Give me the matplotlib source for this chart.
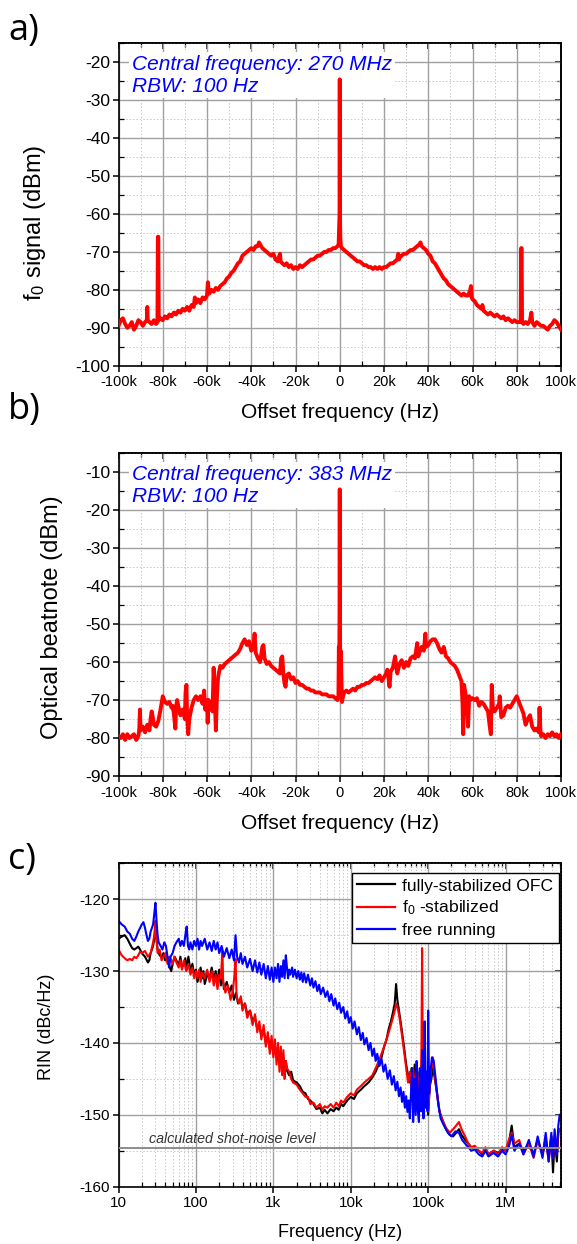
"""
Three-panel chart: f0 beat, optical beatnote and RIN spectra.
"""
import numpy as np
import matplotlib
matplotlib.use('Agg')
import matplotlib.pyplot as plt
from matplotlib.ticker import MultipleLocator, FuncFormatter, LogLocator, NullFormatter

plt.rcParams['font.family'] = ['Liberation Sans', 'DejaVu Sans']
plt.rcParams['mathtext.fontset'] = 'custom'
plt.rcParams['mathtext.rm'] = 'Liberation Sans'
plt.rcParams['mathtext.it'] = 'Liberation Sans:italic'
plt.rcParams['axes.unicode_minus'] = False
plt.rcParams['path.simplify'] = False  # keep the narrow carrier spikes

# --- panel a: f0 signal, offset frequency in kHz ---
fa_khz = [-100, -99, -98, -97, -96, -95, -94, -93, -92, -91, -90, -89, -88, -87.2, -87, -86.8,
          -86, -85, -84, -83, -82.4, -82.2, -82.0, -81.8, -81, -80, -79, -78, -77, -76, -75, -74,
          -73, -72, -71, -70, -69, -68, -67, -66, -65.5, -65, -64, -63, -62, -61, -60, -59.6,
          -59.2, -59, -58, -57, -56, -55, -54, -53, -52, -51, -50, -49, -48, -47, -46, -45, -44,
          -43, -42, -41, -40, -39, -38, -37, -36.5, -36, -35, -34, -33, -32, -31, -30, -29, -28,
          -27.3, -27, -26.7, -26, -25, -24, -23, -22, -21, -20, -19, -18, -17, -16, -15, -14, -13,
          -12, -11, -10, -9, -8, -7, -6, -5, -4, -3, -2, -1, -0.5, -0.25, -0.1, 0, 0.1, 0.25, 0.5,
          1, 2, 3, 4, 5, 6, 7, 8, 9, 10, 11, 12, 13, 14, 15, 16, 17, 18, 19, 20, 21, 22, 23, 24,
          25, 26, 26.4, 26.8, 27, 28, 29, 30, 31, 32, 33, 34, 35, 36, 36.5, 37, 38, 39, 40, 41, 42,
          43, 44, 45, 46, 47, 48, 49, 50, 51, 52, 53, 54, 55, 56, 57, 58, 59, 59.3, 59.6, 60, 61,
          62, 63, 64, 64.5, 65, 66, 67, 68, 69, 70, 71, 72, 73, 74, 75, 76, 77, 78, 79, 80, 81,
          81.8, 82.0, 82.2, 82.4, 83, 84, 85, 86, 86.6, 87, 88, 89, 90, 91, 92, 93, 94, 95, 96,
          97, 98, 99, 100]
pa_dbm = [-89.5, -88, -87.5, -89, -90, -89.5, -88.5, -90.5, -89.5, -88, -88.5, -89.5, -88.5, -88,
          -84.5, -88, -88.5, -89, -88, -89, -88.5, -66, -66, -88, -87.5, -88, -87, -87.5, -86.5,
          -87, -86, -86.5, -85.5, -86, -85, -85.5, -84.5, -85.5, -84, -84.5, -82, -83.5, -82.5,
          -83.5, -82, -82.5, -81.5, -78, -80.5, -81, -80, -80.5, -79.5, -80, -79, -78.5, -78,
          -77, -76.5, -75.5, -75, -74, -73, -72.5, -71, -70.5, -70, -69.5, -69, -69.5, -68.5,
          -68.5, -67.5, -68, -69, -69.5, -70, -70.5, -71, -70.5, -72, -72.5, -71, -70.5, -72.5,
          -73, -73.5, -73, -74, -73.5, -74.5, -74, -74.5, -73.5, -74, -73.5, -73, -72.5, -72,
          -72, -71.5, -71, -71, -70.5, -70, -70, -69.5, -69.5, -69, -69, -68.5, -68, -63, -60,
          -24.5, -60, -66, -68.5, -69, -69.5, -70, -70.5, -71, -71.5, -72, -72.5, -72.5, -73,
          -73.5, -73.5, -74, -74, -74.5, -74, -74.5, -74, -74.5, -74, -74, -73.5, -73, -73,
          -72.5, -72, -70.5, -72, -71.5, -71, -70.5, -70.5, -70, -69.5, -69.5, -69, -68.5, -68,
          -67.5, -68.5, -69, -69.5, -70.5, -71, -72.5, -73, -74, -75, -76, -77, -77.5, -78.5,
          -79, -79.5, -80, -80.5, -81, -81.5, -81, -81.5, -81.5, -80, -79, -82, -82.5, -83, -84,
          -84.5, -85, -84, -85.5, -86, -86.5, -86, -86.5, -87, -86.5, -87, -87.5, -87, -88,
          -87.5, -88, -88.5, -88, -88.5, -88.5, -88.5, -69, -69, -88.5, -89, -88.5, -89, -88,
          -86, -88.5, -89.5, -88.5, -89, -89.5, -89.5, -90, -90.5, -89.5, -89, -88, -88.5,
          -89.5, -90.5]

# --- panel b: optical beatnote ---
fb_khz = [-100, -99, -98, -97, -96, -95, -94, -93, -92, -91, -90.6, -90.3, -90, -89, -88, -87,
          -86, -85.5, -85, -84.5, -84, -83, -82, -81, -80, -79, -78, -77, -76, -75.5, -75, -74.3,
          -74, -73.5, -73, -72, -71, -70, -69.7, -69.3, -69, -68.5, -68, -67, -66, -65, -64, -63,
          -62, -61.3, -60.8, -60, -59.7, -59.3, -58.5, -57.5, -57, -56.5, -56, -55.5, -55, -54,
          -53, -52, -51, -50, -49, -48, -47, -46, -45, -44, -43, -42, -41, -40, -39, -38.5, -38,
          -37, -36, -35.5, -35, -34.5, -34, -33, -32, -31, -30, -29, -28, -27, -26.5, -26, -25.5,
          -25, -24.5, -24, -23, -22, -21, -20, -19, -18, -17, -16, -15, -14, -13, -12, -11, -10,
          -9, -8, -7, -6, -5, -4, -3, -2, -1, -0.6, -0.4, -0.2, -0.05, 0, 0.05, 0.2, 0.4, 0.6, 1,
          1.5, 2, 3, 4, 5, 6, 7, 8, 9, 10, 11, 12, 13, 14, 15, 16, 17, 18, 19, 20, 21, 21.5, 22,
          22.5, 23, 24, 25, 25.5, 26, 27, 28, 29, 30, 31, 32, 33, 34, 35, 35.5, 36, 37, 38, 38.7,
          39, 40, 41, 42, 43, 44, 45, 46, 47, 48, 49, 50, 51, 52, 53, 54, 55, 55.5, 55.8, 56.2,
          57, 57.5, 58, 58.5, 59, 60, 61, 62, 63, 64, 65, 66, 67, 67.8, 68.3, 68.7, 69.2, 70, 71,
          72, 72.3, 73, 74, 75, 76, 77, 78, 79, 80, 81, 82, 83, 84, 85, 86, 87, 88, 89, 90, 90.3,
          90.7, 91, 92, 93, 94, 95, 96, 97, 98, 99, 100]
pb_dbm = [-79.5, -80, -79, -80.5, -79, -80, -79.5, -79, -80.5, -79.5, -77.5, -72.5, -78, -77,
          -78.5, -76.5, -78, -75, -73, -74.5, -76.5, -77, -75.5, -72.5, -69, -70.5, -71, -70.5,
          -72, -71.5, -73.5, -77.5, -72, -70, -71.5, -74, -72.5, -75, -68, -66, -74, -79, -75,
          -72, -70, -69, -70, -69, -71, -67.5, -72.5, -70, -76, -70, -71.5, -73, -61.5, -69, -78,
          -69, -64, -61, -61.5, -60.5, -60, -59.5, -59, -58.5, -58, -57.5, -56.5, -55, -54,
          -55.5, -54.5, -57, -56, -52.5, -57.5, -59, -60, -58, -56, -55.5, -59, -60.5, -60, -61,
          -61.5, -62, -62.5, -63, -59, -58.5, -63, -65.5, -66.5, -63.5, -63, -64.5, -64, -65.5,
          -65, -66, -66, -66.5, -67, -67, -67.5, -67.5, -68, -68, -68, -68.5, -68.5, -68.5, -69,
          -69, -69, -69.5, -70, -69, -56, -60, -40, -14.5, -40, -62, -57, -60, -70.5, -69, -68,
          -67.5, -68, -67.5, -67, -67.5, -66.5, -66.5, -66, -66, -65.5, -65.5, -65, -64.5, -64,
          -64.5, -63.5, -65, -64, -63, -62, -64, -66.5, -62.5, -61.5, -58.5, -61, -63, -60.5,
          -59.5, -61.5, -60, -61, -59, -58.5, -59, -55, -58.5, -57.5, -56, -57, -52.5, -56,
          -55.5, -54.5, -54, -54, -55, -56.5, -57.5, -56, -58.5, -59, -60, -60.5, -61, -62,
          -63.5, -65, -71, -79, -66, -69, -71.5, -77, -69, -70, -69.5, -70, -69.5, -71.5, -70.5,
          -71, -72, -73, -77, -79, -66, -72, -73, -72, -71, -69, -74.5, -74, -72, -71.5, -72,
          -71, -70, -69, -70.5, -72, -73.5, -76.5, -75, -74, -77, -78, -77.5, -78.5, -72, -78,
          -79.5, -79, -80, -79, -79.5, -78.5, -79.5, -79, -80, -79]

# --- panel c: RIN spectra ---
f_full = [10, 11, 12, 13, 14, 15, 16, 17, 18, 19, 20, 22, 24, 25, 26, 28, 29, 30, 31, 32, 34, 36,
          38, 40, 43, 46, 48, 50, 53, 56, 60, 63, 66, 70, 73, 76, 80, 85, 90, 95, 100, 105, 110,
          115, 120, 125, 130, 140, 150, 160, 170, 180, 190, 200, 210, 220, 230, 250, 270, 290,
          310, 330, 350, 380, 400, 430, 460, 500, 540, 580, 620, 660, 700, 750, 800, 850, 900,
          950, 1000, 1050, 1100, 1150, 1200, 1250, 1300, 1350, 1400, 1450, 1500, 1600, 1700,
          1800, 2000, 2200, 2400, 2600, 2800, 3000, 3300, 3600, 4000, 4300, 4600, 5000, 5500,
          6000, 6500, 7000, 7500, 8000, 9000, 10e3, 11e3, 12e3, 13.5e3, 15e3, 17e3, 19e3, 21e3,
          23e3, 25e3, 27e3, 29e3, 31e3, 33e3, 35e3, 37e3, 38.5e3, 40e3, 42e3, 44e3, 46e3, 48e3,
          50e3, 52e3, 55e3, 58e3, 61e3, 64e3, 67e3, 70e3, 73e3, 76e3, 80e3, 84e3, 88e3, 92e3,
          96e3, 100e3, 105e3, 110e3, 115e3, 120e3, 130e3, 140e3, 150e3, 170e3, 190e3, 210e3,
          230e3, 250e3, 270e3, 300e3, 330e3, 360e3, 400e3, 450e3, 500e3, 550e3, 600e3, 700e3,
          800e3, 900e3, 1e6, 1.1e6, 1.2e6, 1.3e6, 1.5e6, 1.7e6, 2e6, 2.3e6, 2.6e6, 3e6, 3.3e6,
          3.6e6, 3.9e6, 4.1e6, 4.3e6, 4.6e6, 4.8e6, 5e6]
rin_full = [-125.5, -125.2, -125.0, -125.5, -126.2, -126.8, -127.0, -126.8, -126.6, -127.0,
            -127.5, -128.0, -128.8, -128.5, -127.5, -126.5, -125.5, -124.0, -125.5, -127.0,
            -127.8, -128.0, -127.5, -128.5, -128.0, -129.5, -130.0, -129.0, -128.0, -128.5,
            -129.2, -128.0, -129.5, -129.0, -128.2, -129.8, -128.0, -130.0, -129.0, -130.5,
            -129.8, -131.5, -130.5, -129.5, -131.0, -130.0, -131.8, -130.5, -131.0, -129.5,
            -131.2, -130.0, -131.5, -129.8, -132.0, -130.5, -132.5, -131.5, -133.0, -132.0,
            -134.0, -133.0, -134.5, -133.8, -135.2, -134.5, -136.0, -135.5, -137.0, -136.5,
            -138.0, -137.5, -139.0, -138.2, -140.0, -139.0, -140.8, -139.8, -141.5, -140.5,
            -142.0, -141.0, -142.8, -141.5, -143.2, -142.0, -143.5, -142.5, -143.8, -144.5,
            -144.0, -145.2, -145.5, -146.0, -146.8, -147.0, -147.8, -148.0, -148.5, -149.2,
            -149.0, -149.8, -149.3, -149.8, -149.2, -149.5, -149.0, -149.3, -148.5, -148.8,
            -148.0, -147.5, -147.8, -147.0, -146.5, -146.0, -145.5, -144.8, -144.0, -143.0,
            -142.0, -140.5, -139.5, -138.0, -137.0, -135.8, -134.5, -131.8, -134.0, -135.5,
            -137.0, -138.5, -140.0, -141.5, -143.0, -144.5, -145.5, -143.5, -146.5, -143.0,
            -147.0, -144.0, -147.5, -145.0, -148.0, -143.5, -149.0, -145.0, -150.0, -146.0,
            -145.0, -143.5, -144.5, -147.0, -149.5, -150.5, -152.0, -152.8, -153.0, -152.5,
            -152.0, -152.8, -153.5, -154.0, -154.5, -154.5, -155.0, -155.5, -154.8, -155.5,
            -155.0, -155.3, -154.8, -155.0, -154.0, -151.5, -154.5, -154.0, -155.0, -154.0,
            -155.5, -153.5, -155.5, -153.5, -156.0, -153.0, -158.0, -153.5, -156.5, -152.5,
            -152.0]

f_f0 = [10, 11, 12, 13, 14, 15, 16, 17, 18, 19, 20, 22, 24, 26, 28, 29, 30, 31, 32, 34, 36, 38,
        40, 43, 46, 50, 53, 56, 60, 63, 66, 70, 75, 80, 85, 90, 95, 100, 105, 110, 115, 120, 130,
        140, 150, 160, 170, 180, 190, 200, 210, 215, 220, 225, 240, 260, 280, 300, 315, 325, 335,
        360, 380, 400, 430, 460, 500, 540, 580, 620, 660, 700, 750, 800, 850, 900, 950, 1000,
        1050, 1100, 1150, 1200, 1250, 1300, 1350, 1400, 1450, 1500, 1600, 1700, 1800, 2000,
        2200, 2400, 2600, 2800, 3000, 3300, 3600, 4000, 4300, 4600, 5000, 5500, 6000, 6500,
        7000, 7500, 8000, 9000, 10e3, 11e3, 12e3, 13.5e3, 15e3, 17e3, 19e3, 21e3, 23e3, 25e3,
        27e3, 29e3, 31e3, 33e3, 35e3, 37e3, 38.5e3, 40e3, 42e3, 44e3, 46e3, 48e3, 50e3, 52e3,
        55e3, 58e3, 61e3, 64e3, 67e3, 70e3, 73e3, 76e3, 80e3, 82e3, 83.5e3, 85e3, 88e3, 92e3,
        96e3, 100e3, 105e3, 110e3, 115e3, 120e3, 130e3, 140e3, 150e3, 170e3, 190e3, 210e3,
        230e3, 250e3, 270e3, 300e3, 330e3, 360e3, 400e3, 450e3, 500e3, 550e3, 600e3, 700e3,
        800e3, 900e3, 1e6, 1.1e6, 1.2e6, 1.3e6, 1.5e6, 1.7e6, 2e6, 2.3e6, 2.6e6, 3e6, 3.3e6,
        3.6e6, 3.9e6, 4.1e6, 4.3e6, 4.6e6, 4.8e6, 5e6]
rin_f0 = [-127.0, -127.8, -128.2, -128.5, -128.3, -128.5, -128.0, -128.2, -127.8, -127.3,
          -127.5, -127.2, -128.0, -127.5, -126.0, -125.0, -123.0, -125.5, -127.5, -127.0,
          -128.5, -128.0, -127.5, -129.0, -128.0, -129.0, -128.0, -128.8, -129.5, -128.5,
          -129.8, -128.5, -130.0, -129.0, -130.5, -129.5, -131.0, -130.0, -131.0, -129.8,
          -131.5, -130.2, -131.0, -129.8, -131.5, -130.0, -132.0, -130.5, -132.5, -130.5,
          -131.0, -129.0, -127.2, -131.5, -133.0, -132.0, -134.0, -132.8, -130.5, -128.3,
          -133.5, -134.5, -133.5, -135.5, -134.5, -136.5, -135.5, -137.5, -136.0, -138.5,
          -137.0, -139.5, -137.5, -140.5, -138.5, -141.5, -139.0, -142.0, -139.5, -143.0,
          -140.0, -144.0, -140.5, -144.5, -141.0, -145.0, -142.5, -143.5, -144.0, -145.0,
          -145.5, -145.8, -146.5, -147.0, -147.5, -147.5, -148.5, -148.3, -149.0, -148.5,
          -149.3, -148.8, -149.0, -148.5, -149.0, -148.3, -148.8, -148.0, -148.3, -147.5,
          -147.0, -147.3, -146.5, -146.0, -145.5, -145.0, -144.5, -143.5, -142.5, -141.5,
          -140.5, -139.5, -138.5, -137.5, -136.5, -135.5, -134.5, -135.0, -136.0, -137.5,
          -139.0, -140.5, -142.0, -143.5, -145.5, -144.0, -146.5, -143.5, -147.0, -144.0,
          -146.5, -144.5, -147.0, -140.0, -126.8, -140.0, -146.0, -144.5, -147.5, -149.5,
          -146.0, -143.5, -142.0, -144.0, -147.0, -149.5, -150.5, -151.8, -152.5, -152.0,
          -151.5, -151.0, -152.0, -153.0, -154.0, -154.5, -154.3, -155.0, -155.3, -154.5,
          -155.5, -155.0, -155.5, -154.5, -155.0, -153.5, -152.5, -154.0, -153.5, -155.5,
          -154.0, -156.0, -153.5, -155.5, -153.0, -156.5, -153.0, -156.0, -153.0, -155.5,
          -152.5, -152.0]

f_free = [10, 11, 12, 13, 14, 15, 16, 17, 18, 19, 20, 21, 22, 23, 24, 25, 26, 27, 28, 29, 30,
          31, 32, 33, 35, 37, 39, 41, 43, 45, 47, 50, 53, 56, 60, 63, 66, 70, 73, 76, 79, 82, 85,
          90, 95, 100, 105, 110, 115, 120, 130, 140, 150, 160, 170, 180, 190, 200, 215, 230, 250,
          270, 290, 310, 325, 340, 360, 380, 400, 430, 460, 500, 540, 580, 620, 660, 700, 750,
          800, 850, 900, 950, 1000, 1050, 1100, 1150, 1200, 1250, 1300, 1350, 1400, 1450, 1500,
          1550, 1600, 1650, 1750, 1800, 1900, 2000, 2100, 2200, 2300, 2400, 2500, 2650, 2800,
          3000, 3150, 3300, 3500, 3700, 3900, 4100, 4400, 4700, 5000, 5300, 5600, 6000, 6300,
          6700, 7100, 7500, 8000, 8500, 9000, 9500, 10e3, 10.6e3, 11.2e3, 12e3, 12.7e3, 13.5e3,
          14.3e3, 15e3, 16e3, 17e3, 18e3, 19e3, 20e3, 21e3, 22e3, 23.5e3, 25e3, 26.5e3, 28e3,
          30e3, 32e3, 34e3, 36e3, 38e3, 40e3, 42e3, 44e3, 46e3, 48e3, 50e3, 52e3, 54e3, 56e3,
          58e3, 60e3, 62e3, 64e3, 66e3, 69e3, 71e3, 73e3, 76e3, 78e3, 81e3, 84e3, 87e3, 90e3,
          93e3, 96e3, 98e3, 100e3, 103e3, 107e3, 112e3, 118e3, 125e3, 135e3, 145e3, 160e3,
          180e3, 200e3, 225e3, 250e3, 275e3, 300e3, 330e3, 360e3, 400e3, 450e3, 500e3, 550e3,
          600e3, 700e3, 800e3, 900e3, 1e6, 1.1e6, 1.2e6, 1.3e6, 1.5e6, 1.7e6, 2e6, 2.3e6,
          2.6e6, 3e6, 3.3e6, 3.6e6, 3.9e6, 4.1e6, 4.3e6, 4.6e6, 4.8e6, 5e6]
rin_free = [-123.0, -123.5, -123.8, -124.5, -124.8, -125.5, -125.8, -125.2, -124.5, -124.0,
            -123.5, -123.2, -124.0, -125.0, -125.8, -125.5, -124.5, -124.0, -123.5, -122.0,
            -120.5, -123.0, -125.0, -126.0, -126.5, -127.0, -126.0, -126.5, -128.0, -129.5,
            -128.0, -127.5, -126.5, -126.0, -125.5, -126.5, -125.8, -126.5, -125.0, -123.8,
            -126.5, -127.0, -126.0, -127.0, -125.8, -126.5, -125.5, -127.0, -125.8, -126.5,
            -125.5, -127.0, -126.0, -127.2, -125.8, -127.0, -126.0, -127.5, -126.5, -128.0,
            -126.8, -128.2, -127.0, -128.5, -125.0, -128.0, -128.8, -127.5, -129.0, -128.0,
            -129.5, -128.3, -130.0, -128.5, -130.2, -128.8, -130.5, -129.0, -131.0, -129.3,
            -131.2, -129.5, -131.5, -129.5, -131.0, -129.0, -131.5, -129.3, -130.8, -128.5,
            -131.0, -127.8, -129.5,
            -131.0, -129.8, -130.5, -129.5, -130.8, -129.8, -131.0, -130.0, -131.2, -130.2,
            -131.5, -130.3, -131.6, -130.5, -132.0, -131.0, -132.3, -131.4, -132.8, -131.9,
            -133.2, -132.3, -133.6, -132.8, -134.2, -133.2, -134.8, -133.8, -135.3, -134.4,
            -135.8, -135.0, -136.6, -135.6, -137.2, -136.4, -138.0, -137.0, -138.8, -137.8,
            -139.6, -138.6, -140.2, -139.3, -141.0, -140.0, -141.8, -140.8, -142.5, -141.5,
            -143.2, -142.2, -144.0, -143.0, -145.0, -143.8, -145.8, -144.6, -146.6, -145.4,
            -147.4, -146.2, -148.2, -146.8, -149.0, -147.4, -149.6, -148.0,
            -150.5, -147.0, -143.5, -151.0, -145.0, -150.0, -142.5,
            -149.0, -151.0, -143.5, -149.5, -141.0, -150.5, -137.0, -148.0, -144.0, -149.5,
            -135.5, -147.0, -144.0, -142.0, -142.5, -145.0, -148.5, -150.5, -151.5, -152.5,
            -153.0, -152.3, -152.5, -153.5, -154.0, -154.5, -155.0, -154.8, -155.5, -155.8,
            -155.0, -155.8, -155.3, -155.8, -155.0, -155.5, -154.5, -152.8, -155.0, -154.0,
            -155.5, -153.5, -155.8, -153.0, -156.0, -152.5, -156.5, -152.5, -156.0, -152.0,
            -155.5, -151.5, -150.0]

shot_noise = -154.6
series_c = [('fully-stabilized OFC', f_full, rin_full, 'black'),
            ('f$_0$ -stabilized', f_f0, rin_f0, 'red'),
            ('free running', f_free, rin_free, 'blue')]

W, H = 577, 1244
fig = plt.figure(figsize=(W / 100, H / 100), dpi=100)


def px_axes(x0, y0, x1, y1):
    return fig.add_axes([x0 / W, 1 - y1 / H, (x1 - x0) / W, (y1 - y0) / H])


def style_axes(ax):
    ax.grid(which='major', color='#a0a0a0', lw=1.0, ls='-')
    ax.grid(which='minor', color='#c8c8c8', lw=0.7, ls=(0, (1.5, 2)))
    ax.set_axisbelow(True)
    for s in ax.spines.values():
        s.set_linewidth(1.2)
    ax.tick_params(which='major', direction='out', length=4, width=1.1, colors='black')
    ax.tick_params(which='minor', direction='in', length=3.5, width=0.9)


def add_mirror(ax, log=False, xmaj=None, xmin=None, ymaj=None, ymin=None):
    top = ax.secondary_xaxis('top')
    right = ax.secondary_yaxis('right')
    if log:
        top.xaxis.set_major_locator(LogLocator(base=10))
        top.xaxis.set_minor_locator(LogLocator(base=10, subs=np.arange(2, 10)))
        top.xaxis.set_minor_formatter(NullFormatter())
    else:
        top.xaxis.set_major_locator(MultipleLocator(xmaj))
        top.xaxis.set_minor_locator(MultipleLocator(xmin))
    right.yaxis.set_major_locator(MultipleLocator(ymaj))
    right.yaxis.set_minor_locator(MultipleLocator(ymin))
    top.set_xticklabels([])
    right.set_yticklabels([])
    for sec in (top, right):
        sec.tick_params(which='major', direction='in', length=4, width=1.1)
        sec.tick_params(which='minor', direction='in', length=3, width=0.9)
        for s in sec.spines.values():
            s.set_linewidth(1.2)


khz_fmt = FuncFormatter(lambda v, p: '0' if abs(v) < 1e-9 else f'{v:g}k')


def offset_panel(ax, x, y, ylim, ylabel, note, lab_x, lab_y):
    ax.plot(x, y, color='#ff0000', lw=2.8, solid_joinstyle='round', zorder=3)
    ax.set_xlim(-100, 100)
    ax.set_ylim(*ylim)
    ax.xaxis.set_major_locator(MultipleLocator(20))
    ax.xaxis.set_minor_locator(MultipleLocator(10))
    ax.yaxis.set_major_locator(MultipleLocator(10))
    ax.yaxis.set_minor_locator(MultipleLocator(5))
    ax.xaxis.set_major_formatter(khz_fmt)
    style_axes(ax)
    ax.tick_params(axis='x', labelsize=10.5, pad=3)
    ax.tick_params(axis='y', labelsize=12.5, pad=2)
    add_mirror(ax, xmaj=20, xmin=10, ymaj=10, ymin=5)
    ax.set_xlabel('Offset frequency (Hz)', fontsize=15)
    ax.xaxis.set_label_coords(0.5, -0.117)
    ax.set_ylabel(ylabel, fontsize=17)
    ax.yaxis.set_label_coords(lab_x, lab_y)
    # white box sits under the trace, so the carrier spike stays visible
    ax.text(0.03, 0.965, note, transform=ax.transAxes, ha='left', va='top',
            fontsize=15, style='italic', color='#0000ff', linespacing=1.2, zorder=2,
            bbox=dict(facecolor='white', edgecolor='none', pad=2))


# panel a
ax_a = px_axes(118.5, 43.3, 561, 365.7)
offset_panel(ax_a, fa_khz, pa_dbm, (-100, -15), 'f$_0$ signal (dBm)',
             'Central frequency: 270 MHz\nRBW: 100 Hz', -0.159, 0.443)

# panel b
ax_b = px_axes(118.5, 453.3, 561, 776)
offset_panel(ax_b, fb_khz, pb_dbm, (-90, -5), 'Optical beatnote (dBm)',
             'Central frequency: 383 MHz\nRBW: 100 Hz', -0.126, 0.493)

# panel c
ax_c = px_axes(118.5, 863.3, 561, 1186.7)
for label, f, r, c in series_c:
    ax_c.plot(f, r, color=c, lw=1.5, label=label)
ax_c.axhline(shot_noise, color='#8c8c8c', lw=1.4, zorder=5)
ax_c.text(24.5, shot_noise + 0.25, 'calculated shot-noise level', fontsize=10.3,
          style='italic', color='#333333', va='bottom', ha='left')
ax_c.set_xscale('log')
ax_c.set_xlim(10, 5.2e6)
ax_c.set_ylim(-160, -115)
ax_c.yaxis.set_major_locator(MultipleLocator(10))
ax_c.yaxis.set_minor_locator(MultipleLocator(5))
ax_c.xaxis.set_minor_locator(LogLocator(base=10, subs=np.arange(2, 10)))
ax_c.xaxis.set_minor_formatter(NullFormatter())
ax_c.xaxis.set_major_formatter(FuncFormatter(
    lambda v, p: {10: '10', 100: '100', 1e3: '1k', 1e4: '10k', 1e5: '100k', 1e6: '1M'}.get(round(v), '')))
style_axes(ax_c)
ax_c.tick_params(axis='x', labelsize=11, pad=3)
ax_c.tick_params(axis='y', labelsize=11, pad=2)
add_mirror(ax_c, log=True, ymaj=10, ymin=5)
ax_c.set_xlabel('Frequency (Hz)', fontsize=13)
ax_c.xaxis.set_label_coords(0.5, -0.115)
ax_c.set_ylabel('RIN (dBc/Hz)', fontsize=13)
ax_c.yaxis.set_label_coords(-0.143, 0.495)
leg = ax_c.legend(loc='upper right', bbox_to_anchor=(0.995, 0.97), fontsize=12.6,
                  frameon=True, fancybox=False, edgecolor='black', framealpha=1,
                  handlelength=2.2, handletextpad=0.4, borderpad=0.3, labelspacing=0.3,
                  borderaxespad=0)
leg.get_frame().set_linewidth(1.0)
for ln in leg.get_lines():
    ln.set_linewidth(1.6)

# panel letters
for txt, ytop in (('a)', 13), ('b)', 392), ('c)', 842)):
    fig.text(8 / W, 1 - ytop / H, txt, fontsize=26, family='Open Sans', va='top', ha='left')

fig.savefig('out.png', dpi=100)
